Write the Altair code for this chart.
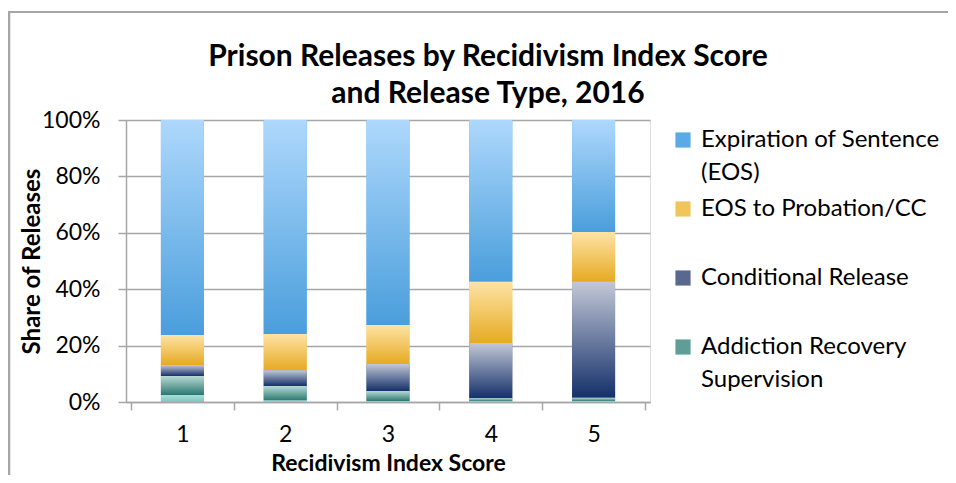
import altair as alt
import pandas as pd

scores = [1, 2, 3, 4, 5]
release_types = [
    "Expiration of Sentence (EOS)",
    "EOS to Probation/CC",
    "Conditional Release",
    "Addiction Recovery Supervision",
    "Other",
]
# share of releases (%), per score 1..5
eos = [76.2, 75.9, 72.7, 57.4, 39.7]
eos_prob = [10.7, 12.8, 13.8, 21.7, 17.7]
conditional = [3.9, 5.6, 9.6, 19.6, 41.1]
addiction = [6.7, 5.2, 3.6, 1.0, 1.2]
other = [2.5, 0.5, 0.3, 0.3, 0.3]

series = [eos, eos_prob, conditional, addiction, other]
# stacking order from the bottom
stack_order = [4, 3, 2, 1, 0]

rows = []
for t, vals, o in zip(release_types, series, stack_order):
    for s, v in zip(scores, vals):
        rows.append({"score": s, "type": t, "share": v / 100.0, "order": o})
df = pd.DataFrame(rows)

solid = ["#5aaae6", "#f2c55a", "#59688f", "#5f9e97", "#8fd0c9"]
grads = [
    ("#aed8fc", "#4a9edc"),
    ("#fee3a6", "#e6aa22"),
    ("#c2c8d6", "#14306a"),
    ("#b8dad4", "#2a7770"),
    ("#a8e0da", "#7cc4bc"),
]

FONT = "Lato"
GRAY = "#a6a6a6"

base = alt.Chart(df).transform_stack(
    stack="share", as_=["y0", "y1"], groupby=["score"],
    sort=[alt.SortField("order", order="ascending")],
)

x_enc = alt.X(
    "score:Q",
    scale=alt.Scale(domain=[0.5, 5.5], nice=False, zero=False),
    axis=alt.Axis(
        values=[0.5, 1, 1.5, 2, 2.5, 3, 3.5, 4, 4.5, 5, 5.5],
        labelExpr="datum.value % 1 === 0 ? datum.value : ''",
        tickOpacity={"condition": {"test": "datum.value % 1 === 0", "value": 0}, "value": 1},
        labelOverlap=False,
        grid=False,
        tickSize=8,
        tickColor=GRAY,
        tickWidth=1.5,
        domainColor=GRAY,
        domainWidth=1.5,
        labelPadding=13,
        labelFontSize=23,
        labelColor="#000000",
        labelFont=FONT,
        title="Recidivism Index Score",
        titleFontSize=23,
        titleFont=FONT,
        titleFontWeight="bold",
        titlePadding=6,
        titleColor="#000000",
    ),
)

y_enc = alt.Y(
    "y0:Q",
    scale=alt.Scale(domain=[0, 1], nice=False),
    axis=alt.Axis(
        values=[0, 0.2, 0.4, 0.6, 0.8, 1.0],
        format=".0%",
        grid=True,
        gridColor=GRAY,
        gridWidth=1.5,
        tickSize=8,
        tickColor=GRAY,
        tickWidth=1.5,
        domainColor=GRAY,
        domainWidth=1.5,
        labelPadding=18,
        labelFontSize=23,
        labelFont=FONT,
        labelColor="#000000",
        title="Share of Releases",
        titleFontSize=24,
        titleFont=FONT,
        titleFontWeight="bold",
        titleColor="#000000",
        titlePadding=-3,
    ),
)

legend = alt.Legend(
    values=release_types[:4],
    orient="none",
    legendX=545,
    legendY=8,
    title=None,
    symbolType="square",
    symbolSize=230,
    symbolStrokeWidth=0,
    labelFont=FONT,
    labelFontSize=24,
    labelColor="#000000",
    labelLimit=400,
    labelOffset=6,
    rowPadding=12,
    gridAlign="all",
    labelExpr=(
        "datum.label === 'Expiration of Sentence (EOS)' ? ['Expiration of Sentence', '(EOS)'] : "
        "datum.label === 'Addiction Recovery Supervision' ? ['Addiction Recovery', 'Supervision'] : "
        "datum.label"
    ),
)

under = base.mark_bar(size=43).encode(
    x=x_enc,
    y=y_enc,
    y2="y1:Q",
    color=alt.Color(
        "type:N",
        scale=alt.Scale(domain=release_types, range=solid),
        legend=legend,
    ),
)

layers = [under]
for t, (c1, c2) in zip(release_types, grads):
    g = alt.Gradient(
        gradient="linear",
        stops=[alt.GradientStop(color=c1, offset=0), alt.GradientStop(color=c2, offset=1)],
        x1=0, x2=0, y1=0, y2=1,
    )
    layers.append(
        base.transform_filter(alt.datum.type == t)
        .mark_bar(size=43, color=g)
        .encode(x=alt.X("score:Q"), y=alt.Y("y0:Q"), y2="y1:Q")
    )

# chart-area frame (top and left edges, as in the reference)
frame_df = pd.DataFrame({"k": [0]})
frame_left = alt.Chart(frame_df).mark_rule(color=GRAY, strokeWidth=2.5).encode(
    x=alt.value(-117), y=alt.value(-108), y2=alt.value(360)
)
frame_top = alt.Chart(frame_df).mark_rule(color=GRAY, strokeWidth=2).encode(
    x=alt.value(-118), x2=alt.value(830), y=alt.value(-108)
)
layers += [frame_left, frame_top]

chart = alt.layer(*layers).properties(
    width=524,
    height=282,
    padding={"left": 118, "top": 112, "right": 298, "bottom": 73},
    autosize=alt.AutoSizeParams(type="none"),
    title=alt.Title(
        text=["Prison Releases by Recidivism Index Score", "and Release Type, 2016"],
        font=FONT,
        fontSize=30,
        fontWeight="bold",
        color="#000000",
        anchor="middle",
        offset=-98,
        dx=100,
        lineHeight=37,
    ),
).configure_view(stroke=None).configure(
    background="#ffffff",
    style={"guide-label": {"lineHeight": 33}},
)

chart.save("out.html", embed_options={"renderer": "svg", "actions": False})
